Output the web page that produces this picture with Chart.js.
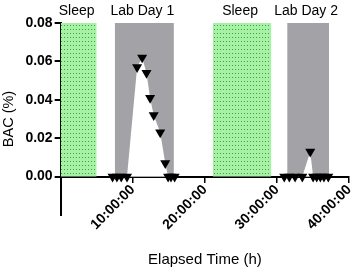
<!DOCTYPE html>
<html>
<head>
<meta charset="utf-8">
<script src="https://cdn.jsdelivr.net/npm/chart.js@4"></script>
<style>
  body { margin: 0; background: #fff; }
  canvas { display: block; }
</style>
</head>
<body>
<canvas id="bac-chart" width="355" height="268"></canvas>
<script>
// Shaded periods (hours)
const bandLabels = ['Sleep', 'Lab Day 1', 'Sleep', 'Lab Day 2'];
const bandStart = [0, 7.5, 21.1, 31.4];
const bandEnd = [5, 15.7, 29.2, 37.2];
const bandKind = ['sleep', 'lab', 'sleep', 'lab'];
const bandTop = 0.08;

// BAC measurements
const hours = [7.2, 7.8, 8.4, 9.2, 10.6, 11.3, 11.9, 12.4, 12.9, 13.8, 14.5, 14.9, 15.3, 15.8,
               31.0, 31.7, 32.5, 33.5, 34.6, 35.0, 35.5, 36.0, 36.5, 37.1];
const bac = [0, 0, 0, 0, 0.057, 0.062, 0.054, 0.041, 0.032, 0.023, 0.007, 0, 0, 0,
             0, 0, 0, 0, 0.013, 0, 0, 0, 0, 0];

const xTicks = [10, 20, 30, 40];
const yTicks = [0, 0.02, 0.04, 0.06, 0.08];

const fontFamily = '"Liberation Sans", Arial, sans-serif';

// dotted green fill for sleep
function sleepPattern() {
    const c = document.createElement('canvas');
    c.width = 3;
    c.height = 4;
    const g = c.getContext('2d');
    g.fillStyle = '#a3f3a3';
    g.fillRect(0, 0, 3, 4);
    g.fillStyle = '#5c8c5c';
    g.fillRect(1, 1, 1, 1);
    return g.createPattern(c, 'repeat');
}

const ctx = document.getElementById('bac-chart').getContext('2d');
const pattern = sleepPattern();

const datasets = [{
    label: 'BAC',
    data: hours.map((h, i) => ({ x: h, y: bac[i] })),
    borderColor: 'rgba(0,0,0,0)',
    borderWidth: 0,
    backgroundColor: '#ffffff',
    fill: { value: 0 },
    pointStyle: 'triangle',
    rotation: 180,
    pointRadius: 5.8,
    pointBackgroundColor: '#000',
    pointBorderColor: '#000',
    pointBorderWidth: 0
}];

bandLabels.forEach((lbl, i) => {
    datasets.push({
        label: lbl,
        data: [{ x: bandStart[i], y: bandTop }, { x: bandEnd[i], y: bandTop }],
        borderColor: 'rgba(0,0,0,0)',
        borderWidth: 0,
        pointRadius: 0,
        backgroundColor: bandKind[i] === 'sleep' ? pattern : '#a3a3a7',
        fill: { value: 0 }
    });
});

const bandText = {
    id: 'bandText',
    afterDraw(chart) {
        const x = chart.scales.x;
        const c = chart.ctx;
        c.save();
        c.font = '14px ' + fontFamily;
        c.fillStyle = '#000';
        c.textAlign = 'center';
        c.textBaseline = 'middle';
        bandLabels.forEach((lbl, i) => {
            const px = x.getPixelForValue((bandStart[i] + bandEnd[i]) / 2) - 2;
            c.fillText(lbl, px, chart.chartArea.top - 12);
        });
        c.restore();
    }
};

new Chart(ctx, {
    type: 'line',
    data: { datasets: datasets },
    plugins: [bandText],
    options: {
        responsive: false,
        devicePixelRatio: 1,
        animation: false,
        layout: { padding: { top: 23, right: 5, bottom: 53, left: 0 } },
        plugins: { legend: { display: false }, tooltip: { enabled: false } },
        scales: {
            x: {
                type: 'linear',
                min: 0,
                max: 40,
                position: { y: 0 },
                z: 1,
                afterBuildTicks: s => { s.ticks = xTicks.map(v => ({ value: v })); },
                afterFit: s => { s.paddingRight = 0; },
                ticks: {
                    minRotation: 45,
                    maxRotation: 45,
                    color: '#000',
                    padding: 0,
                    font: { family: fontFamily, size: 14, weight: 'bold' },
                    callback: v => v + ':00:00'
                },
                grid: { drawOnChartArea: false, drawTicks: true, tickLength: 5, color: '#000', lineWidth: 1.5 },
                border: { display: true, color: '#000', width: 2 },
                title: {
                    display: true,
                    text: 'Elapsed Time (h)',
                    color: '#000',
                    font: { family: fontFamily, size: 15 },
                    padding: { top: 18 }
                }
            },
            y: {
                min: -0.02,
                max: 0.08,
                z: 1,
                afterBuildTicks: s => { s.ticks = yTicks.map(v => ({ value: v })); },
                ticks: {
                    color: '#000',
                    padding: 2,
                    font: { family: fontFamily, size: 14, weight: 'bold' },
                    callback: v => v.toFixed(2)
                },
                grid: { drawOnChartArea: false, drawTicks: true, tickLength: 6, color: '#000', lineWidth: 2 },
                border: { display: true, color: '#000', width: 2 },
                title: {
                    display: true,
                    text: 'BAC (%)',
                    color: '#000',
                    font: { family: fontFamily, size: 14.5 },
                    padding: { top: 0, bottom: 6 }
                }
            }
        }
    }
});
</script>
</body>
</html>
